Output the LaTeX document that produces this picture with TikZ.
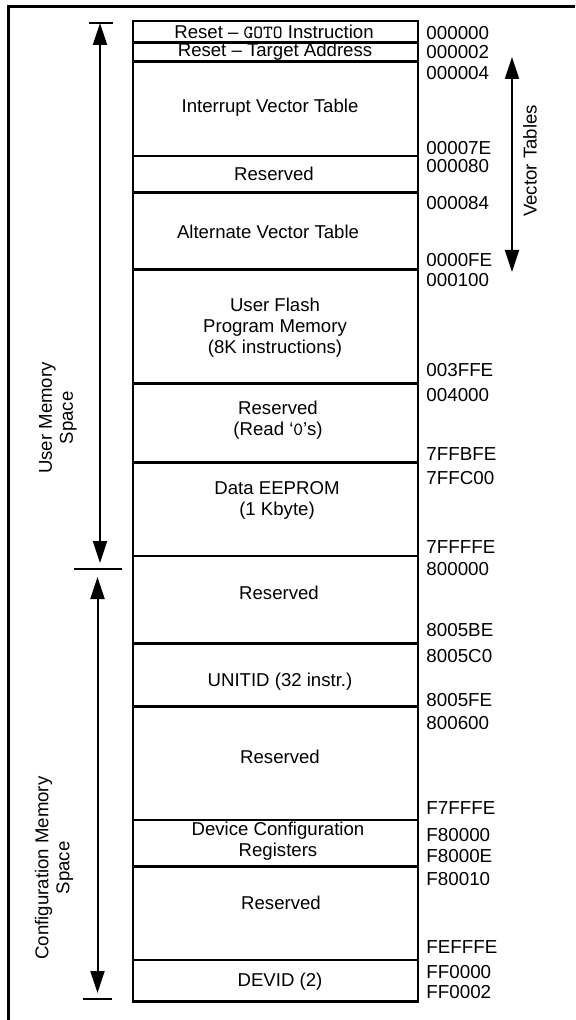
\documentclass[tikz,border=0pt]{standalone}
\usepackage{fontspec}
\setmainfont{Liberation Sans}
\usetikzlibrary{arrows.meta,calc,positioning}
\tikzset{
  memline/.style={line width=1.25pt},
  frameline/.style={line width=1.25pt},
  dimbar/.style={line width=1pt},
  dimarrow/.style={line width=1pt,{Triangle[length=11pt,width=7pt]}-{Triangle[length=11pt,width=7pt]}},
  cell/.style={inner sep=0pt,align=center,font=\fontsize{9.3}{10.5}\selectfont},
  addr/.style={inner sep=0pt,anchor=west,font=\fontsize{9.4}{10.5}\selectfont},
}

\begin{document}
\begin{tikzpicture}[x=0.5pt,y=-0.5pt]
\useasboundingbox (0,0) rectangle (575,1020);
\draw[frameline] (8.5,1020) |- (575,6.5);

% memory map
\draw[memline] (133,21) rectangle (418,1001.7);
\foreach \y in {42.7,61.7,156,192.7,269.3,383.3,462.7,556,643.3,706.7,820,866.7,960}
  \draw[memline] (133,\y) -- (418,\y);

\node[cell] (rstgoto) at (274,32) {Reset -- \texttt{GOTO} Instruction};
\node[cell] (rsttgt) at (275,52) {Reset -- Target Address};
\node[cell] (ivt) at (270,108) {Interrupt Vector Table};
\node[cell] (res1) at (274,174) {Reserved};
\node[cell] (aivt) at (268,232) {Alternate Vector Table};
\node[cell] (flash) at (275,328) {User Flash\\Program Memory\\(8K instructions)};
\node[cell] (res2) at (278,420.5) {Reserved\\(Read `\texttt{0}'s)};
\node[cell] (eeprom) at (277,500.5) {Data EEPROM\\(1 Kbyte)};
\node[cell] (res3) at (279,593) {Reserved};
\node[cell] (unitid) at (280,682) {UNITID (32 instr.)};
\node[cell] (res4) at (280,757) {Reserved};
\node[cell] (devcfg) at (278,841.5) {Device Configuration\\Registers};
\node[cell] (res5) at (281,903) {Reserved};
\node[cell] (devid) at (280,982) {DEVID (2)};

% addresses
\foreach \y/\a in {33/000000,52/000002,73.5/000004,148/00007E,166/000080,
    203/000084,260/0000FE,280/000100,370/003FFE,395/004000,454/7FFBFE,
    478/7FFC00,547/7FFFFE,569/800000,630/8005BE,656/8005C0,700/8005FE,
    723/800600,808/F7FFFE,835/F80000,856/F8000E,879/F80010,947/FEFFFE,
    972/FF0000,992/FF0002}
  \node[addr] (a\a) at (426,\y) {\a};

% spaces
\coordinate (utop) at (100,23);
\coordinate (ubot) at (100,563);
\coordinate (ctop) at (97.5,577);
\coordinate (cbot) at (97.5,993);
\coordinate (vtop) at (512,57);
\coordinate (vbot) at (512,272);

\draw[dimbar] ($(utop)+(-11,0)$) -- ($(utop)+(12.6,0)$);
\draw[dimbar] ($(ubot)+(-26,6.3)$) -- ($(ubot)+(21.7,6.3)$);
\draw[dimbar] ($(cbot)+(-14.5,6)$) -- ($(cbot)+(14.2,6)$);
\draw[dimarrow] (utop) -- (ubot);
\draw[dimarrow] (ctop) -- (cbot);
\draw[dimarrow] (vtop) -- (vbot);

\node[cell,rotate=90] (userlbl) at (58,418) {User Memory\\Space};
\node[cell,rotate=90] (cfglbl) at (54,868) {Configuration Memory\\Space};
\node[cell,rotate=90] (vtlbl) at (530,161) {Vector Tables};
\end{tikzpicture}
\end{document}
